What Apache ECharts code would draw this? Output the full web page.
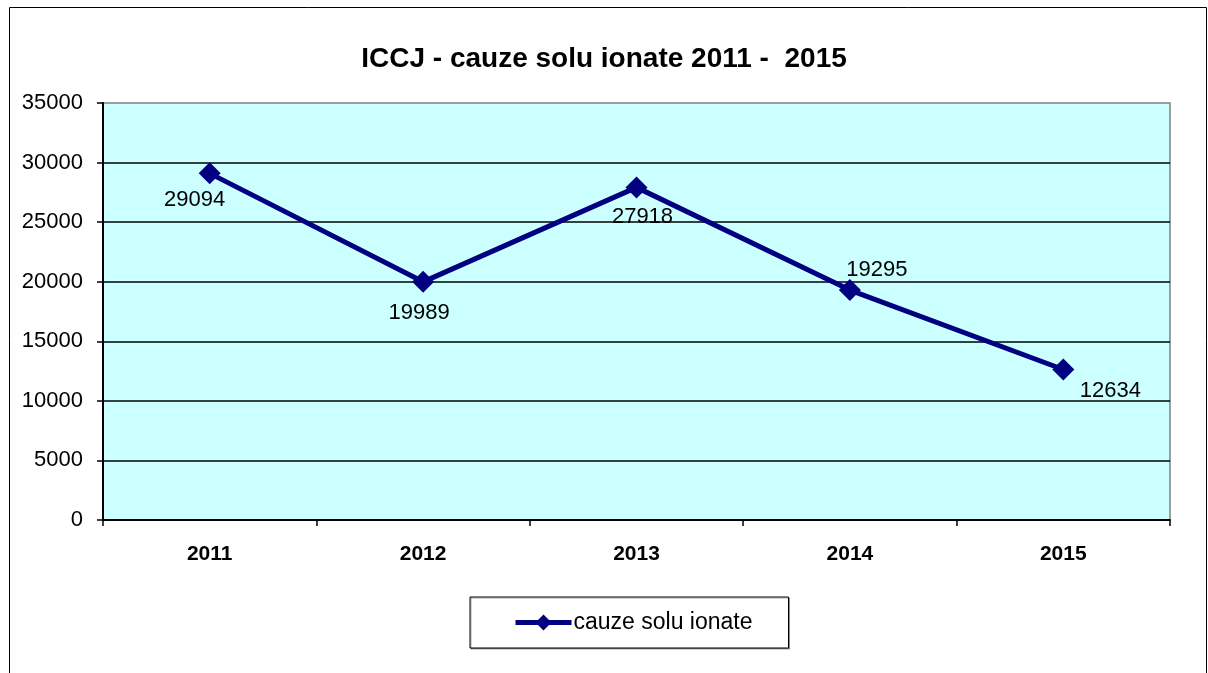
<!DOCTYPE html>
<html lang="ro">
<head>
    <meta charset="UTF-8">
    <title>ICCJ - cauze solutionate 2011 - 2015</title>
    <script src="https://cdn.jsdelivr.net/npm/echarts@6/dist/echarts.min.js"></script>
    <style>
        html, body { margin: 0; padding: 0; background: #fff; }
        #main { width: 1208px; height: 673px; }
    </style>
</head>
<body>
    <div id="main"></div>
    <script type="text/javascript">
        // date
        const years = ['2011', '2012', '2013', '2014', '2015'];
        const solved = [29094, 19989, 27918, 19295, 12634];
        const yTicks = { min: 0, max: 35000, interval: 5000 };

        // unde stau etichetele fata de punct (px)
        const labelOffsets = [[-15, 27], [-4, 31], [6, 30], [27, -20], [47, 21]];

        const font = '"Liberation Sans", Arial, sans-serif';
        const navy = '#000080';

        var myChart = echarts.init(document.getElementById('main'));

        var option = {
            backgroundColor: '#ffffff',
            animation: false,
            title: {
                text: 'ICCJ - cauze solu ionate 2011 -  2015',
                left: 'center',
                top: 40,
                textStyle: { fontFamily: font, fontSize: 28, fontWeight: 'bold', color: '#000' }
            },
            graphic: [{
                type: 'rect',
                shape: { x: 9.5, y: 7.5, width: 1197, height: 700 },
                style: { fill: 'none', stroke: '#000', lineWidth: 1 },
                silent: true
            }],
            legend: {
                data: ['cauze solu ionate'],
                left: 470,
                top: 597,
                padding: [14, 36, 14, 43],
                itemWidth: 56,
                itemHeight: 20,
                itemGap: 0,
                lineStyle: { width: 5 },
                borderColor: '#000',
                borderWidth: 1,
                shadowColor: 'rgba(0,0,0,0.35)',
                shadowOffsetX: 1,
                shadowOffsetY: 1,
                backgroundColor: '#fff',
                textStyle: { fontFamily: font, fontSize: 23, color: '#000', padding: [0, 0, 0, -3] }
            },
            grid: {
                left: 103,
                top: 103,
                right: 38,
                bottom: 153,
                show: true,
                backgroundColor: '#CCFFFF',
                borderColor: '#808080',
                borderWidth: 1.5
            },
            xAxis: {
                type: 'category',
                data: years,
                boundaryGap: true,
                axisLine: { lineStyle: { color: '#000', width: 2 } },
                axisTick: { show: true, length: 6, alignWithLabel: false, lineStyle: { color: '#000', width: 1.5 } },
                axisLabel: { fontFamily: font, fontSize: 21, fontWeight: 'bold', color: '#000', margin: 24 },
                splitLine: { show: false }
            },
            yAxis: {
                type: 'value',
                min: yTicks.min,
                max: yTicks.max,
                interval: yTicks.interval,
                axisLine: { show: true, lineStyle: { color: '#000', width: 2 } },
                axisTick: { show: true, length: 6, lineStyle: { color: '#000', width: 1.5 } },
                axisLabel: {
                    fontFamily: font, fontSize: 22, color: '#000', margin: 20,
                    formatter: function (v) { return String(v); }
                },
                splitLine: { show: true, showMaxLine: false, lineStyle: { color: '#000', width: 1.5 } }
            },
            series: [{
                name: 'cauze solu ionate',
                type: 'line',
                data: solved.map(function (v, i) {
                    return {
                        value: v,
                        label: { position: 'inside', offset: labelOffsets[i] }
                    };
                }),
                symbol: 'diamond',
                symbolSize: 22,
                lineStyle: { color: navy, width: 5 },
                itemStyle: { color: navy },
                label: {
                    show: true,
                    fontFamily: font,
                    fontSize: 22,
                    color: '#000'
                }
            }]
        };

        myChart.setOption(option);
    </script>
</body>
</html>
